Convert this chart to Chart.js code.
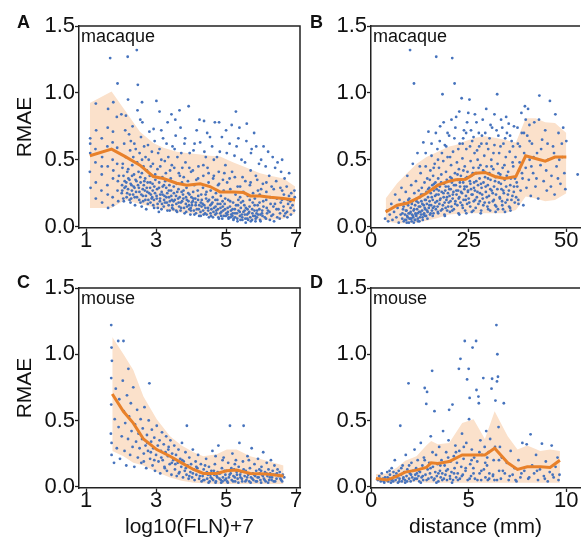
<!DOCTYPE html>
<html>
<head>
<meta charset="utf-8">
<script src="https://cdn.jsdelivr.net/npm/chart.js@4.4.0/dist/chart.umd.min.js"></script>
<style>
  body { margin: 0; width: 584px; height: 542px; overflow: hidden; background: #fff; position: relative; font-family: "Liberation Sans", Arial, sans-serif; }
  canvas { position: absolute; }
  .tag { position: absolute; font-weight: bold; font-size: 18px; line-height: 18px; color: #111; }
</style>
</head>
<body>
<canvas id="panelA" width="304" height="270" style="left:0;top:0"></canvas>
<canvas id="panelB" width="292" height="270" style="left:292px;top:0"></canvas>
<canvas id="panelC" width="304" height="280" style="left:0;top:262px"></canvas>
<canvas id="panelD" width="292" height="280" style="left:292px;top:262px"></canvas>
<div class="tag" style="left:17px;top:13px">A</div>
<div class="tag" style="left:310px;top:13px">B</div>
<div class="tag" style="left:17px;top:273px">C</div>
<div class="tag" style="left:310px;top:273px">D</div>
<script>
const rmaeTicks = [0, 0.5, 1.0, 1.5];
const flnTicks = [1, 3, 5, 7];
const macDistTicks = [0, 25, 50];
const mouseDistTicks = [0, 5, 10];

// binned means with shaded spread
const macFlnBins = [1.11, 1.73, 2.11, 2.54, 2.92, 3.21, 3.59, 3.88, 4.26, 4.54, 4.83, 5.21, 5.5, 5.69, 5.97, 6.26, 6.64, 6.97];
const macFlnMean = [0.53, 0.58, 0.525, 0.46, 0.375, 0.36, 0.325, 0.31, 0.32, 0.30, 0.26, 0.26, 0.255, 0.23, 0.23, 0.22, 0.21, 0.20];
const macFlnHigh = [0.925, 1.01, 0.87, 0.71, 0.625, 0.59, 0.56, 0.55, 0.54, 0.53, 0.525, 0.48, 0.45, 0.43, 0.40, 0.38, 0.36, 0.30];
const macFlnLow = [0.14, 0.14, 0.20, 0.17, 0.145, 0.13, 0.11, 0.10, 0.09, 0.08, 0.075, 0.065, 0.055, 0.05, 0.05, 0.05, 0.06, 0.10];

const macDistBins = [3.75, 6.7, 9.2, 11.7, 14.2, 17.1, 20, 21.7, 24.2, 26.7, 29.2, 31.7, 34.2, 37.1, 39.6, 42.1, 44.6, 47.1, 50];
const macDistMean = [0.11, 0.16, 0.175, 0.21, 0.25, 0.31, 0.34, 0.35, 0.355, 0.40, 0.405, 0.375, 0.36, 0.375, 0.53, 0.51, 0.49, 0.52, 0.52];
const macDistHigh = [0.21, 0.325, 0.40, 0.47, 0.52, 0.56, 0.60, 0.61, 0.64, 0.665, 0.675, 0.665, 0.65, 0.63, 0.81, 0.81, 0.78, 0.775, 0.70];
const macDistLow = [0.04, 0.025, 0.025, 0.03, 0.045, 0.065, 0.09, 0.095, 0.10, 0.10, 0.10, 0.10, 0.10, 0.125, 0.225, 0.21, 0.19, 0.20, 0.25];

const mouseFlnBins = [1.75, 2.07, 2.35, 2.64, 3.02, 3.4, 3.73, 4.07, 4.35, 4.73, 5.02, 5.3, 5.69, 6.16, 6.64];
const mouseFlnMean = [0.70, 0.5675, 0.48, 0.36, 0.28, 0.23, 0.18, 0.13, 0.10, 0.10, 0.12, 0.125, 0.10, 0.095, 0.08];
const mouseFlnHigh = [1.13, 1.0, 0.88, 0.68, 0.51, 0.38, 0.31, 0.26, 0.23, 0.245, 0.28, 0.28, 0.23, 0.195, 0.16];
const mouseFlnLow = [0.27, 0.23, 0.18, 0.16, 0.11, 0.07, 0.045, 0.03, 0.025, 0.02, 0.02, 0.02, 0.02, 0.02, 0.02];

const mouseDistBins = [0.25, 0.83, 1.33, 1.75, 2.33, 2.83, 3.08, 3.42, 4.0, 4.67, 5.25, 5.83, 6.33, 7.0, 7.5, 8.0, 8.67, 9.17, 9.67];
const mouseDistMean = [0.0625, 0.05, 0.08, 0.11, 0.125, 0.145, 0.18, 0.175, 0.19, 0.24, 0.24, 0.24, 0.29, 0.18, 0.13, 0.15, 0.15, 0.145, 0.20];
const mouseDistHigh = [0.095, 0.10, 0.145, 0.195, 0.23, 0.31, 0.345, 0.32, 0.33, 0.48, 0.51, 0.36, 0.57, 0.38, 0.28, 0.31, 0.27, 0.28, 0.27];
const mouseDistLow = [0.045, 0.03, 0.03, 0.03, 0.04, 0.03, 0.03, 0.03, 0.03, 0.03, 0.03, 0.03, 0.03, 0.03, 0.03, 0.03, 0.03, 0.03, 0.03];

// individual connections, flat x,y pairs
const macFlnPts = [
  1.12,0.62, 1.11,0.41, 1.13,0.29, 1.12,0.55, 1.12,0.66,
  1.27,0.48, 1.28,0.33, 1.29,0.72, 1.28,0.21, 1.27,0.58, 1.28,0.92,
  1.45,0.39, 1.46,0.52, 1.44,0.27, 1.45,0.66, 1.46,0.18, 1.45,0.45,
  1.61,0.31, 1.62,0.45, 1.63,0.88, 1.61,0.6, 1.62,0.24, 1.63,0.14, 1.62,0.74,
  1.76,0.5, 1.77,0.36, 1.78,0.93, 1.76,0.22, 1.77,0.71, 1.69,1.26, 1.78,0.42, 1.77,0.16, 1.76,0.63,
  1.88,0.82, 1.9,0.27, 1.89,0.47, 1.9,1.07, 1.91,0.34, 1.89,0.59, 1.92,0.19, 1.94,0.38,
  2.01,0.84, 2.03,0.31, 2.02,0.25, 2.04,0.44, 2.07,0.38, 2.09,0.62, 2.08,0.19, 2.1,0.29,
  2.13,0.52, 2.15,0.33, 2.14,0.83, 2.16,0.22, 2.19,1.27, 2.18,0.41, 2.2,0.28, 2.21,0.36,
  2.24,0.35, 2.26,0.57, 2.25,0.24, 2.27,0.18, 2.23,0.69, 2.3,0.31, 2.32,0.46, 2.31,0.27, 2.33,0.75, 2.29,0.21,
  2.37,0.39, 2.39,0.22, 2.38,0.62, 2.36,0.3, 2.4,0.16, 2.45,1.32, 2.44,0.34, 2.46,0.48, 2.43,0.26, 2.47,0.87,
  2.48,1.06, 2.51,0.29, 2.52,0.2, 2.5,0.41, 2.53,0.55, 2.56,0.33, 2.58,0.24, 2.57,0.67, 2.55,0.37, 2.59,0.15,
  2.62,0.28, 2.64,0.45, 2.63,0.19, 2.61,0.78, 2.65,0.31, 2.69,0.36, 2.71,0.23, 2.7,0.52, 2.68,0.27, 2.72,0.13,
  2.75,0.26, 2.77,0.61, 2.76,0.33, 2.78,0.2, 2.74,0.42, 2.82,0.38, 2.84,0.18, 2.83,0.29, 2.81,0.71, 2.85,0.24,
  2.89,0.22, 2.91,0.47, 2.9,0.32, 2.92,0.16, 2.88,0.56, 2.95,0.3, 2.97,0.25, 2.96,0.64, 2.94,0.2, 2.98,0.35,
  3.02,0.21, 3.04,0.43, 3.03,0.28, 3.05,0.14, 3.01,0.94, 3.09,0.33, 3.11,0.19, 3.1,0.58, 3.12,0.24, 3.08,0.11,
  3.16,0.26, 3.18,0.37, 3.17,0.17, 3.15,0.72, 3.19,0.3, 3.23,0.2, 3.25,0.49, 3.24,0.23, 3.22,0.15, 3.26,0.34,
  3.29,0.29, 3.31,0.18, 3.3,0.62, 3.32,0.25, 3.28,0.4, 3.36,0.16, 3.38,0.31, 3.37,0.22, 3.35,0.52, 3.39,0.12,
  3.43,0.27, 3.45,0.2, 3.44,0.84, 3.42,0.36, 3.46,0.14, 3.5,0.19, 3.52,0.44, 3.51,0.25, 3.49,0.13, 3.53,0.58,
  3.57,0.23, 3.59,0.32, 3.58,0.17, 3.56,0.68, 3.6,0.11, 3.64,0.28, 3.66,0.15, 3.65,0.4, 3.63,0.21, 3.67,0.87,
  3.71,0.18, 3.73,0.26, 3.72,0.55, 3.7,0.12, 3.74,0.33, 3.78,0.21, 3.8,0.14, 3.79,0.37, 3.77,0.24, 3.81,0.62,
  3.85,0.17, 3.87,0.29, 3.86,0.11, 3.84,0.48, 3.88,0.2, 3.92,0.25, 3.94,0.16, 3.93,0.9, 3.91,0.34, 3.95,0.13,
  3.99,0.14, 4.01,0.22, 4.0,0.41, 4.02,0.18, 3.98,0.09, 4.06,0.26, 4.08,0.12, 4.07,0.57, 4.05,0.19, 4.09,0.31,
  4.13,0.16, 4.15,0.35, 4.14,0.1, 4.12,0.21, 4.16,0.72, 4.2,0.2, 4.22,0.13, 4.21,0.45, 4.19,0.27, 4.23,0.08,
  4.27,0.11, 4.29,0.24, 4.28,0.18, 4.26,0.63, 4.3,0.15, 4.34,0.29, 4.36,0.09, 4.35,0.38, 4.33,0.17, 4.37,0.79,
  4.41,0.14, 4.43,0.21, 4.42,0.52, 4.4,0.1, 4.44,0.26, 4.48,0.19, 4.5,0.33, 4.49,0.12, 4.47,0.44, 4.51,0.07,
  4.55,0.16, 4.57,0.08, 4.56,0.27, 4.54,0.67, 4.58,0.13, 4.62,0.22, 4.64,0.11, 4.63,0.36, 4.61,0.18, 4.65,0.5,
  4.69,0.09, 4.71,0.25, 4.7,0.15, 4.68,0.78, 4.72,0.12, 4.76,0.17, 4.78,0.07, 4.77,0.31, 4.75,0.2, 4.79,0.41,
  4.83,0.1, 4.85,0.23, 4.84,0.14, 4.82,0.56, 4.86,0.08, 4.9,0.19, 4.92,0.12, 4.91,0.35, 4.89,0.06, 4.93,0.27,
  4.97,0.13, 4.99,0.08, 4.98,0.46, 4.96,0.17, 5.0,0.72,
  5.04,0.09, 5.06,0.2, 5.05,0.11, 5.03,0.33, 5.07,0.06, 5.11,0.15, 5.13,0.07, 5.12,0.28, 5.1,0.62, 5.14,0.12,
  5.18,0.08, 5.2,0.18, 5.19,0.1, 5.17,0.41, 5.21,0.05, 5.25,0.13, 5.27,0.24, 5.26,0.07, 5.24,0.53, 5.28,0.86,
  5.32,0.06, 5.34,0.16, 5.33,0.3, 5.31,0.1, 5.35,0.2, 5.39,0.11, 5.41,0.05, 5.4,0.22, 5.38,0.74, 5.42,0.14,
  5.46,0.07, 5.48,0.19, 5.47,0.37, 5.45,0.09, 5.49,0.26, 5.53,0.12, 5.55,0.06, 5.54,0.48, 5.52,0.16, 5.56,0.03,
  5.6,0.09, 5.62,0.23, 5.61,0.13, 5.59,0.77, 5.63,0.05, 5.67,0.15, 5.69,0.07, 5.68,0.31, 5.66,0.11, 5.7,0.42,
  5.74,0.05, 5.76,0.18, 5.75,0.1, 5.73,0.58, 5.77,0.25, 5.81,0.12, 5.83,0.08, 5.82,0.21, 5.8,0.7, 5.84,0.04,
  5.88,0.07, 5.9,0.16, 5.89,0.35, 5.87,0.1, 5.91,0.27, 5.95,0.13, 5.97,0.05, 5.96,0.24, 5.94,0.47, 5.98,0.09,
  6.04,0.08, 6.06,0.19, 6.05,0.32, 6.03,0.12, 6.07,0.6, 6.14,0.06, 6.16,0.14, 6.15,0.26, 6.13,0.45, 6.17,0.1,
  6.24,0.11, 6.26,0.22, 6.25,0.05, 6.23,0.38, 6.27,0.17, 6.34,0.09, 6.36,0.28, 6.35,0.15, 6.33,0.52, 6.37,0.04,
  6.44,0.13, 6.46,0.07, 6.45,0.21, 6.43,0.34, 6.47,0.48, 6.54,0.1, 6.56,0.18, 6.55,0.29, 6.53,0.06, 6.57,0.41,
  6.64,0.15, 6.66,0.08, 6.65,0.24, 6.63,0.12, 6.67,0.36, 6.74,0.11, 6.76,0.2, 6.75,0.07, 6.73,0.3, 6.77,0.17,
  6.84,0.14, 6.86,0.25, 6.85,0.09, 6.83,0.19, 6.94,0.12, 6.96,0.22, 6.95,0.27
];
const macFlnDense = [
  2.035,0.27, 2.065,0.21, 2.105,0.34, 2.135,0.3, 2.175,0.25, 2.205,0.43, 2.245,0.2, 2.275,0.32, 2.315,0.38, 2.345,0.24,
  2.385,0.29, 2.415,0.35, 2.455,0.22, 2.485,0.31, 2.525,0.26, 2.555,0.18, 2.595,0.4, 2.625,0.23, 2.665,0.34, 2.695,0.2,
  2.735,0.29, 2.765,0.17, 2.805,0.25, 2.835,0.33, 2.875,0.21, 2.905,0.27, 2.945,0.14, 2.975,0.39, 3.015,0.23, 3.045,0.17,
  3.085,0.29, 3.115,0.21, 3.155,0.13, 3.185,0.24, 3.225,0.31, 3.255,0.18, 3.295,0.22, 3.325,0.12, 3.365,0.27, 3.395,0.19,
  3.435,0.23, 3.465,0.16, 3.505,0.3, 3.535,0.2, 3.575,0.12, 3.605,0.26, 3.645,0.18, 3.675,0.22, 3.715,0.14, 3.745,0.19,
  3.785,0.27, 3.815,0.1, 3.855,0.22, 3.885,0.15, 3.925,0.19, 3.955,0.24, 3.995,0.12, 4.025,0.16, 4.065,0.21, 4.095,0.09,
  4.135,0.18, 4.165,0.13, 4.205,0.23, 4.235,0.16, 4.275,0.08, 4.305,0.2, 4.345,0.12, 4.375,0.16, 4.415,0.24, 4.445,0.09,
  4.485,0.14, 4.515,0.2, 4.555,0.1, 4.585,0.17, 4.625,0.07, 4.655,0.14, 4.695,0.2, 4.725,0.1, 4.765,0.13, 4.795,0.06,
  4.835,0.17, 4.865,0.11, 4.905,0.15, 4.935,0.08, 4.975,0.21, 5.005,0.1, 5.045,0.14, 5.075,0.07, 5.115,0.19, 5.145,0.09,
  5.185,0.13, 5.215,0.06, 5.255,0.1, 5.285,0.16, 5.325,0.04, 5.355,0.12, 5.395,0.08, 5.425,0.18, 5.465,0.05, 5.495,0.11,
  5.535,0.09, 5.565,0.14, 5.605,0.06, 5.635,0.1, 5.675,0.2, 5.705,0.04, 5.745,0.13, 5.775,0.08, 5.815,0.16, 5.845,0.06,
  5.885,0.12, 5.915,0.09, 5.955,0.18, 5.985,0.04, 6.025,0.1, 6.065,0.15, 6.105,0.07, 6.145,0.2, 6.195,0.12, 6.295,0.08,
  6.395,0.17, 6.495,0.13, 6.595,0.2, 6.695,0.1, 6.795,0.23, 6.895,0.16,
  2.05,0.47, 2.35,0.52, 2.6,0.5, 2.85,0.45, 3.15,0.5, 3.45,0.46, 3.75,0.44, 4.05,0.42, 4.35,0.46, 4.65,0.38,
  4.95,0.4, 5.25,0.37, 5.55,0.34, 5.85,0.38, 6.15,0.33,
  2.12,0.72, 2.28,0.64, 2.42,0.58, 2.55,0.8, 2.66,0.6, 2.79,0.5, 2.93,0.73, 3.06,0.55, 3.2,0.66, 3.33,0.78,
  3.47,0.6, 3.61,0.52, 3.7,0.74, 3.83,0.66, 3.96,0.55, 4.1,0.62, 4.24,0.8, 4.38,0.56, 4.46,0.7, 4.6,0.6,
  4.74,0.52, 4.88,0.67, 5.02,0.55, 5.16,0.76, 5.3,0.6, 5.44,0.5, 5.58,0.64, 5.71,0.55, 5.86,0.6, 6.0,0.5,
  6.2,0.56, 6.4,0.44, 6.6,0.5, 6.8,0.4, 2.2,0.95, 2.6,0.93, 3.1,0.86, 3.55,0.8, 4.8,0.78, 5.35,0.66,
  3.12,0.45, 3.4,0.42, 3.68,0.38, 3.95,0.44, 4.2,0.36, 4.5,0.4, 4.8,0.32, 5.1,0.36, 5.4,0.3, 5.7,0.33,
  6.0,0.28, 6.3,0.3, 6.6,0.27
];

const macDistPts = [
  3.6,0.06, 4.1,0.12, 4.4,0.04, 4.8,0.09, 5.2,0.17, 5.5,0.05, 5.9,0.11, 6.2,0.24, 6.5,0.07, 6.8,0.14,
  7.1,0.03, 7.3,0.2, 7.6,0.09, 7.8,0.29, 8.0,0.06, 8.2,0.13, 8.4,0.04, 8.5,0.18, 8.7,0.09, 8.9,0.26,
  9.0,0.05, 9.1,0.12, 9.3,0.38, 9.4,0.07, 9.5,0.16, 9.7,0.03, 9.8,0.21, 9.9,0.1, 10.0,1.32, 10.1,0.06,
  10.2,0.14, 10.3,0.31, 10.4,0.04, 10.5,0.09, 10.6,0.19, 10.7,0.47, 10.8,0.07, 10.9,0.12, 11.0,1.07, 11.1,0.25,
  11.2,0.05, 11.3,0.16, 11.4,0.1, 11.5,0.34, 11.6,0.08, 11.7,0.21, 11.8,0.13, 11.9,0.55, 12.0,0.06, 12.1,0.18,
  12.2,0.27, 12.3,0.11, 12.4,0.04, 12.5,0.22, 12.6,0.15, 12.7,0.4, 12.8,0.09, 12.9,0.19, 13.0,0.29, 13.1,0.12,
  13.2,0.07, 13.3,0.24, 13.4,0.63, 13.5,0.16, 13.6,0.1, 13.7,0.33, 13.8,0.2, 13.9,0.13, 14.0,0.45, 14.1,0.08,
  14.2,0.26, 14.3,0.17, 14.4,0.36, 14.5,0.11, 14.6,0.22, 14.7,0.71, 14.8,0.14, 14.9,0.29, 15.0,0.19, 15.1,0.09,
  15.2,0.42, 15.3,0.25, 15.4,0.16, 15.5,0.53, 15.6,0.12, 15.7,0.31, 15.8,0.2, 15.9,0.38, 16.0,0.1, 16.1,0.27,
  16.2,0.15, 16.3,0.47, 16.4,0.23, 16.5,0.33, 16.6,0.13, 16.7,1.27, 16.8,0.28, 16.9,0.19, 17.0,0.58, 17.1,0.11,
  17.2,0.36, 17.3,0.24, 17.4,0.44, 17.5,0.17, 17.6,0.3, 17.7,0.75, 17.8,0.21, 17.9,0.12, 18.0,0.39, 18.1,0.26,
  18.3,0.99, 18.4,0.16, 18.5,0.49, 18.6,0.22, 18.7,0.32, 18.8,0.09, 18.9,0.61, 19.0,0.27, 19.1,0.14, 19.2,0.41,
  19.3,0.2, 19.4,0.35, 19.5,0.12, 19.6,0.52, 19.7,0.25, 19.8,0.3, 19.9,0.18, 20.0,0.68, 20.1,0.23, 20.2,0.11,
  20.3,0.37, 20.4,0.28, 20.5,0.46, 20.6,0.15, 20.7,0.33, 20.8,1.26, 20.9,0.21, 21.0,0.56, 21.1,0.26, 21.2,0.13,
  21.4,1.07, 21.5,0.4, 21.6,0.19, 21.7,0.31, 21.8,0.82, 21.9,0.24, 22.0,0.48, 22.1,0.16, 22.2,0.35, 22.3,0.27,
  22.4,0.1, 22.5,0.43, 22.6,0.22, 22.7,0.62, 22.8,0.3, 22.9,0.18, 23.0,0.38, 23.2,0.96, 23.3,0.25, 23.4,0.51,
  23.5,0.14, 23.6,0.33, 23.7,0.2, 23.8,0.72, 23.9,0.28, 24.0,0.45, 24.1,0.12, 24.2,0.36, 24.3,0.23, 24.4,0.58,
  24.5,0.3, 24.6,0.17, 24.7,0.41, 24.8,0.26, 24.9,0.85, 25.0,0.21, 25.2,0.95, 25.3,0.34, 25.4,0.15, 25.5,0.49,
  25.6,0.28, 25.7,0.38, 25.8,0.11, 25.9,0.64, 26.0,0.24, 26.2,0.44, 26.3,0.19, 26.4,0.33, 26.5,0.55, 26.6,0.27,
  26.8,0.14, 26.9,0.4, 27.0,0.78, 27.1,0.22, 27.3,0.5, 27.4,0.31, 27.5,0.17, 27.7,0.6, 27.8,0.36, 27.9,0.25,
  28.0,0.46, 28.2,0.12, 28.3,0.29, 28.4,0.68, 28.6,0.21, 28.7,0.42, 28.8,0.33, 29.0,0.53, 29.1,0.18, 29.2,0.37,
  29.4,0.26, 29.5,0.88, 29.6,0.45, 29.8,0.15, 29.9,0.31, 30.0,0.58, 30.2,0.23, 30.3,0.4, 30.5,0.12, 30.6,0.35,
  30.8,0.5, 30.9,0.27, 31.0,0.74, 31.2,0.19, 31.3,0.43, 31.5,0.3, 31.6,0.61, 31.8,0.16, 31.9,0.37, 32.0,0.24,
  32.3,0.99, 32.4,0.47, 32.5,0.13, 32.7,0.33, 32.8,0.55, 33.0,0.21, 33.1,0.39, 33.3,0.8, 33.4,0.28, 33.6,0.16,
  33.7,0.44, 33.9,0.62, 34.0,0.25, 34.2,0.35, 34.3,0.11, 34.5,0.52, 34.6,0.3, 34.8,0.7, 34.9,0.2, 35.1,0.41,
  35.3,0.27, 35.5,0.56, 35.6,0.14, 35.8,0.36, 36.0,0.64, 36.2,0.23, 36.4,0.45, 36.6,0.3, 36.8,0.18, 37.0,0.52,
  37.3,0.33, 37.5,0.74, 37.7,0.2, 37.9,0.42, 38.1,0.6, 38.3,0.27, 38.5,0.85, 38.8,0.36, 39.0,0.16, 39.2,0.55,
  39.4,0.9, 39.6,0.44, 39.8,0.29, 40.0,0.68, 40.2,0.88, 40.4,0.35, 40.6,0.5, 40.9,0.23, 41.2,0.62, 41.5,0.4,
  41.8,0.78, 42.1,0.3, 42.5,0.55, 42.8,0.21, 43.1,0.98, 43.4,0.46, 43.8,0.65, 44.2,0.34, 44.6,0.72, 45.0,0.27,
  45.4,0.5, 45.8,0.94, 46.2,0.38, 46.6,0.6, 47.0,0.24, 47.5,0.45, 48.0,0.7, 48.5,0.32, 49.0,0.52, 49.5,0.4,
  50.0,0.64, 52.9,0.39
];
const macDistDense = [
  8.05,0.1, 8.35,0.15, 8.65,0.05, 8.95,0.12, 9.25,0.08, 9.55,0.2, 9.85,0.06, 10.15,0.11, 10.45,0.17, 10.75,0.08,
  11.05,0.13, 11.35,0.05, 11.65,0.19, 11.95,0.1, 12.25,0.15, 12.55,0.07, 12.85,0.24, 13.15,0.17, 13.45,0.09, 13.75,0.14,
  14.05,0.2, 14.35,0.12, 14.65,0.28, 14.95,0.16, 15.25,0.1, 15.55,0.22, 15.85,0.14, 16.15,0.32, 16.45,0.18, 16.75,0.24,
  17.05,0.15, 17.35,0.27, 17.65,0.2, 17.95,0.33, 18.25,0.13, 18.55,0.25, 18.85,0.18, 19.15,0.3, 19.45,0.22, 19.75,0.15,
  20.05,0.28, 20.35,0.19, 20.65,0.36, 20.95,0.24, 21.25,0.31, 21.55,0.17, 21.85,0.27, 22.15,0.39, 22.45,0.21, 22.75,0.33,
  23.05,0.26, 23.35,0.16, 23.65,0.42, 23.95,0.3, 24.25,0.2, 24.55,0.37, 24.85,0.27, 25.15,0.18, 25.45,0.32, 25.75,0.24,
  26.05,0.4, 26.35,0.29, 26.65,0.2, 26.95,0.34, 27.25,0.26, 27.55,0.44, 27.85,0.19, 28.15,0.32, 28.45,0.24, 28.75,0.16,
  29.05,0.41, 29.35,0.3, 29.65,0.22, 29.95,0.36, 30.25,0.18, 30.55,0.28, 30.85,0.45, 31.15,0.25, 31.45,0.2, 31.75,0.34,
  32.05,0.15, 32.35,0.28, 32.65,0.4, 32.95,0.22, 33.25,0.32, 33.55,0.19, 33.85,0.27, 34.15,0.46, 34.45,0.18, 34.75,0.38,
  35.05,0.24, 35.35,0.15, 35.65,0.31, 35.95,0.2, 36.25,0.48, 36.55,0.26, 36.85,0.36, 37.15,0.22, 37.45,0.3, 37.75,0.17,
  9.15,0.03, 9.65,0.1, 10.35,0.06, 10.95,0.03, 11.45,0.09, 12.05,0.04, 12.65,0.11, 13.25,0.05, 13.85,0.08, 14.45,0.06,
  15.05,0.35, 16.05,0.44, 17.15,0.5, 18.15,0.55, 19.25,0.6, 20.25,0.52, 21.35,0.66, 22.35,0.58, 23.45,0.62, 24.35,0.7,
  25.35,0.6, 26.25,0.67, 27.15,0.57, 28.25,0.62, 29.25,0.7, 30.35,0.66, 31.35,0.55, 32.15,0.72, 33.15,0.6, 34.35,0.66,
  35.25,0.77, 36.35,0.6, 38.05,0.48, 38.65,0.4, 39.15,0.7, 40.55,0.76, 41.05,0.45, 42.35,0.36, 43.55,0.58, 44.85,0.42,
  46.05,0.3, 46.85,0.55, 47.85,0.36, 48.85,0.62, 49.75,0.28,
  12.5,0.45, 14.0,0.55, 15.5,0.62, 16.6,0.7, 17.6,0.64, 18.6,0.78, 19.6,0.7, 20.6,0.8, 21.6,0.74, 22.6,0.86,
  23.6,0.66, 24.6,0.78, 25.6,0.72, 26.6,0.84, 27.6,0.7, 28.6,0.8, 29.6,0.62, 30.6,0.76, 31.6,0.84, 32.6,0.68,
  33.6,0.74, 34.6,0.82, 35.6,0.68, 36.6,0.75, 37.6,0.62, 38.6,0.7, 39.6,0.8, 40.6,0.64, 41.6,0.52, 43.0,0.8,
  45.2,0.62, 47.2,0.84, 48.2,0.5, 49.2,0.74,
  15.8,0.08, 17.2,0.1, 18.9,0.08, 20.8,0.12, 22.6,0.09, 24.4,0.1, 26.2,0.12, 28.1,0.1, 30.0,0.13, 31.9,0.11,
  33.8,0.13, 35.7,0.12
];

const mouseFlnPts = [
  1.72,1.22, 1.73,1.05, 1.72,0.82, 1.71,0.4, 1.73,0.24, 1.72,0.62, 1.74,0.95, 1.73,0.33,
  1.8,0.18, 1.82,0.51, 1.85,0.74, 1.88,0.29, 1.92,1.1, 1.93,0.45, 1.95,0.66, 1.97,0.21,
  2.02,0.38, 2.05,0.8, 2.07,1.1, 2.08,0.57, 2.1,0.27, 2.12,0.48, 2.15,0.16, 2.17,0.69,
  2.2,0.36, 2.21,0.89, 2.23,0.53, 2.26,0.24, 2.28,0.63, 2.3,0.42, 2.33,0.3, 2.35,0.75, 2.38,0.15, 2.4,0.47,
  2.43,0.34, 2.46,0.58, 2.48,0.22, 2.5,0.4,
  2.53,0.29, 2.56,0.51, 2.58,0.18, 2.6,0.36, 2.62,0.44, 2.65,0.25, 2.67,0.6, 2.7,0.31, 2.72,0.14, 2.74,0.39,
  2.77,0.27, 2.79,0.5, 2.81,0.78, 2.83,0.21, 2.86,0.34, 2.88,0.43, 2.9,0.16, 2.92,0.29, 2.95,0.37, 2.97,0.12,
  3.0,0.24, 3.02,0.46, 3.05,0.31, 3.07,0.19, 3.1,0.35, 3.12,0.1, 3.14,0.27, 3.17,0.41, 3.19,0.2, 3.22,0.32,
  3.24,0.15, 3.27,0.26, 3.29,0.38, 3.31,0.12, 3.34,0.23, 3.36,0.3, 3.39,0.17, 3.41,0.35, 3.44,0.09, 3.46,0.25,
  3.49,0.2, 3.52,0.31, 3.54,0.13, 3.57,0.24, 3.59,0.08, 3.62,0.18, 3.64,0.28, 3.67,0.11, 3.69,0.21, 3.72,0.15,
  3.74,0.33, 3.77,0.07, 3.79,0.19, 3.82,0.12, 3.84,0.26, 3.87,0.09, 3.88,0.46, 3.9,0.16, 3.93,0.06, 3.95,0.22,
  3.98,0.11, 4.0,0.17, 4.03,0.07, 4.05,0.28, 4.08,0.13, 4.1,0.05, 4.13,0.19, 4.15,0.09, 4.18,0.14, 4.2,0.24,
  4.23,0.06, 4.25,0.11, 4.28,0.17, 4.3,0.04,
  4.33,0.08, 4.36,0.13, 4.38,0.05, 4.41,0.1, 4.43,0.21, 4.46,0.06, 4.48,0.09, 4.51,0.15, 4.53,0.04, 4.56,0.07,
  4.58,0.12, 4.61,0.27, 4.63,0.05, 4.66,0.09, 4.68,0.17, 4.71,0.04, 4.73,0.08, 4.76,0.11, 4.78,0.31, 4.81,0.06,
  4.83,0.1, 4.86,0.03, 4.88,0.14, 4.91,0.07, 4.93,0.22, 4.96,0.05, 4.98,0.09, 5.01,0.12, 5.03,0.04, 5.06,0.18,
  5.08,0.07, 5.11,0.46, 5.13,0.1, 5.16,0.05, 5.18,0.25, 5.21,0.08, 5.23,0.13, 5.26,0.04, 5.28,0.2, 5.31,0.09,
  5.33,0.06, 5.36,0.15, 5.38,0.33, 5.41,0.07, 5.43,0.11, 5.46,0.04, 5.48,0.19, 5.5,0.46, 5.53,0.08, 5.56,0.12,
  5.58,0.05, 5.61,0.23, 5.63,0.09, 5.66,0.04, 5.68,0.14, 5.71,0.07, 5.73,0.29, 5.76,0.1, 5.78,0.05, 5.81,0.17,
  5.83,0.08, 5.86,0.12, 5.88,0.04, 5.91,0.21, 5.93,0.07, 5.96,0.1, 5.98,0.05, 6.01,0.15, 6.03,0.09, 6.06,0.26,
  6.08,0.06, 6.11,0.11, 6.13,0.04, 6.16,0.18, 6.18,0.08, 6.21,0.13, 6.23,0.05, 6.26,0.1, 6.28,0.2, 6.31,0.07,
  6.33,0.12, 6.36,0.04, 6.38,0.16, 6.41,0.09, 6.44,0.06, 6.47,0.13, 6.5,0.08, 6.53,0.11, 6.57,0.05, 6.62,0.09,
  6.66,0.07
];
const mouseFlnDense = [
  3.55,0.17, 3.65,0.1, 3.75,0.2, 3.85,0.14, 3.95,0.08, 4.05,0.1, 4.15,0.15, 4.25,0.08, 4.35,0.05, 4.45,0.11,
  4.5,0.03, 4.55,0.09, 4.6,0.06, 4.65,0.12, 4.7,0.03, 4.75,0.07, 4.8,0.1, 4.85,0.05, 4.9,0.04, 4.95,0.12,
  5.0,0.06, 5.05,0.03, 5.1,0.09, 5.15,0.14, 5.2,0.04, 5.25,0.07, 5.3,0.11, 5.35,0.03, 5.4,0.09, 5.45,0.06,
  5.5,0.13, 5.55,0.04, 5.6,0.07, 5.65,0.1, 5.7,0.03, 5.75,0.06, 5.8,0.09, 5.85,0.04, 5.9,0.07, 5.95,0.13,
  6.0,0.03, 6.05,0.08, 6.1,0.05, 6.15,0.1, 6.2,0.03, 6.25,0.07, 6.3,0.05, 6.35,0.09, 6.4,0.04, 6.45,0.1,
  6.55,0.06, 6.6,0.04, 3.15,0.22, 3.25,0.14, 3.35,0.28, 3.45,0.18, 2.95,0.2, 2.85,0.26, 2.75,0.33, 2.65,0.19,
  4.4,0.16, 4.9,0.2, 5.25,0.17, 5.65,0.2, 6.0,0.12, 4.7,0.23
];

const mouseDistPts = [
  0.35,0.05, 0.42,0.08, 0.5,0.04, 0.55,0.1, 0.62,0.06, 0.68,0.03, 0.72,0.07, 0.78,0.05, 0.83,0.11, 0.88,0.04,
  0.92,0.06, 0.97,0.09, 1.02,0.03, 1.06,0.14, 1.1,0.06, 1.14,0.04, 1.18,0.08, 1.22,0.2, 1.26,0.05, 1.3,0.1,
  1.34,0.07, 1.38,0.03, 1.42,0.12, 1.46,0.06, 1.5,0.46, 1.54,0.09, 1.58,0.04, 1.62,0.16, 1.66,0.07, 1.7,0.11,
  1.74,0.05, 1.78,0.24, 1.82,0.08, 1.86,0.13, 1.92,0.78, 1.95,0.06, 1.99,0.1, 2.03,0.04, 2.07,0.18, 2.11,0.07,
  2.15,0.12, 2.19,0.05, 2.23,0.28, 2.27,0.09, 2.31,0.14, 2.35,0.06, 2.39,0.2, 2.43,0.08, 2.47,0.04, 2.51,0.11,
  2.55,0.33, 2.59,0.07, 2.63,0.16, 2.67,0.05, 2.71,0.22, 2.75,0.745, 2.79,0.09, 2.83,0.625, 2.87,0.715, 2.9,0.13,
  2.94,0.06, 2.98,0.18, 3.02,0.1, 3.06,0.38, 3.1,0.07, 3.13,0.875, 3.17,0.15, 3.21,0.05, 3.25,0.57, 3.29,0.11,
  3.33,0.24, 3.37,0.08, 3.41,0.17, 3.45,0.04, 3.49,0.3, 3.53,0.12, 3.57,0.07, 3.61,0.2, 3.65,0.1, 3.69,0.42,
  3.73,0.06, 3.77,0.16, 3.81,0.09, 3.85,0.26, 3.89,0.05, 3.93,0.13, 3.97,0.35, 4.0,0.58, 4.04,0.08, 4.08,0.19,
  4.12,0.11, 4.17,0.62, 4.2,0.05, 4.24,0.23, 4.28,0.14, 4.32,0.31, 4.36,0.07, 4.4,0.18, 4.44,0.1, 4.5,0.89,
  4.52,0.27, 4.55,0.06, 4.58,0.965, 4.62,0.15, 4.66,0.4, 4.7,0.09, 4.74,0.21, 4.8,1.1, 4.84,0.12, 4.88,0.33,
  4.92,0.81, 4.95,0.05, 5.0,0.89, 5.02,0.51, 5.05,0.67, 5.08,0.17, 5.12,0.08, 5.16,0.28, 5.2,1.05, 5.24,0.14,
  5.28,0.22, 5.32,0.06, 5.38,1.1, 5.4,0.73, 5.44,0.19, 5.5,0.68, 5.52,0.63, 5.56,0.1, 5.6,0.35, 5.64,0.05,
  5.68,0.24, 5.75,0.82, 5.78,0.13, 5.82,0.3, 5.86,0.07, 5.9,0.42, 5.94,0.16, 5.98,0.05, 6.02,0.26, 6.06,0.1,
  6.1,0.36, 6.17,0.74, 6.2,0.815, 6.24,0.08, 6.28,0.2, 6.32,0.05, 6.37,0.65, 6.42,1.22, 6.45,0.795, 6.47,1.0,
  6.5,0.83, 6.53,0.45, 6.56,0.12, 6.6,0.3, 6.65,0.06, 6.7,0.22, 6.8,0.63, 6.85,0.1, 6.95,0.18, 7.05,0.05,
  7.15,0.27, 7.25,0.09, 7.35,0.14, 7.45,0.04, 7.55,0.2, 7.65,0.07, 7.75,0.33, 7.85,0.12, 7.97,0.32, 8.05,0.06,
  8.17,0.395, 8.25,0.16, 8.35,0.1, 8.45,0.24, 8.55,0.05, 8.65,0.13, 8.75,0.325, 8.85,0.08, 8.95,0.19, 9.05,0.04,
  9.15,0.11, 9.25,0.31, 9.35,0.07, 9.45,0.15, 9.55,0.22, 9.65,0.09
];
const mouseDistDense = [
  0.45,0.06, 0.65,0.04, 0.85,0.07, 1.05,0.05, 1.25,0.08, 1.45,0.04, 1.65,0.06, 1.85,0.04, 2.05,0.09, 2.25,0.06,
  2.45,0.12, 2.65,0.08, 2.85,0.05, 3.05,0.14, 3.25,0.06, 3.45,0.1, 3.65,0.05, 3.85,0.12, 4.05,0.06, 4.25,0.1,
  4.45,0.05, 4.65,0.08, 4.85,0.14, 5.05,0.06, 5.25,0.1, 5.45,0.05, 5.65,0.12, 5.85,0.18, 6.05,0.06, 6.25,0.09,
  6.45,0.05, 6.75,0.12, 7.1,0.08, 7.4,0.05, 7.7,0.1, 8.1,0.07, 8.5,0.12, 8.9,0.06, 9.3,0.09, 9.6,0.05,
  1.15,0.11, 1.55,0.14, 1.95,0.16, 2.35,0.1, 2.75,0.2, 3.15,0.26, 3.55,0.16, 3.95,0.22, 4.35,0.26, 4.75,0.3,
  5.15,0.2, 5.55,0.26, 5.95,0.22, 6.35,0.3, 6.55,0.2, 0.95,0.12, 1.75,0.03, 2.55,0.03, 3.35,0.03, 4.15,0.03
];

const fontFamily = '"Liberation Sans", Arial, sans-serif';
const ink = '#111';
const axisColor = '#222';
const dotBlue = '#4673bd';
const lineOrange = '#e8812a';
const bandPeach = '#fbe1cb';

Chart.defaults.font.family = fontFamily;

function pairs(flat) {
    const out = [];
    for (let i = 0; i < flat.length; i += 2) out.push({ x: flat[i], y: flat[i + 1] });
    return out;
}

function zipXY(xs, ys) {
    return xs.map((x, i) => ({ x: x, y: ys[i] }));
}

// top border (and right one when the panel is not cut off) plus species tag
const boxPlugin = {
    id: 'box',
    afterDraw(chart, args, opts) {
        const { ctx, chartArea: a } = chart;
        ctx.save();
        ctx.strokeStyle = axisColor;
        ctx.lineWidth = 1.5;
        ctx.beginPath();
        ctx.moveTo(a.left, a.top);
        ctx.lineTo(a.right, a.top);
        if (opts.right) ctx.lineTo(a.right, a.bottom);
        ctx.stroke();
        ctx.font = '18px ' + fontFamily;
        ctx.fillStyle = ink;
        ctx.textBaseline = 'alphabetic';
        ctx.fillText(opts.tag, a.left + 2, a.top + 16);
        ctx.restore();
    }
};

function makePanel(id, p) {
    new Chart(document.getElementById(id), {
        type: 'scatter',
        data: {
            datasets: [
                { type: 'line', data: zipXY(p.bins, p.mean), borderColor: lineOrange, borderWidth: 3, pointRadius: 0, fill: false, order: 0 },
                { data: pairs(p.pts.concat(p.dense)), backgroundColor: dotBlue, pointRadius: 1.4, pointBorderWidth: 0, order: 1 },
                { type: 'line', data: zipXY(p.bins, p.high), borderWidth: 0, pointRadius: 0, backgroundColor: bandPeach, fill: '+1', order: 2 },
                { type: 'line', data: zipXY(p.bins, p.low), borderWidth: 0, pointRadius: 0, fill: false, order: 3 }
            ]
        },
        options: {
            responsive: false,
            animation: false,
            layout: { padding: { top: 26, right: p.padRight, bottom: 0, left: 0 } },
            plugins: {
                legend: { display: false },
                tooltip: { enabled: false },
                box: { right: p.right, tag: p.tag }
            },
            scales: {
                x: {
                    type: 'linear',
                    min: p.xMin,
                    max: p.xMax,
                    afterBuildTicks: s => { s.ticks = p.xTicks.map(v => ({ value: v })); },
                    afterFit: s => { s.height = p.bottomH; },
                    ticks: { font: { size: 22, lineHeight: 1 }, color: ink, padding: -2, autoSkip: false, maxRotation: 0 },
                    grid: { drawOnChartArea: false, drawTicks: true, tickLength: 4, tickColor: axisColor, tickWidth: 1.3 },
                    border: { color: axisColor, width: 1.5 },
                    title: { display: !!p.xTitle, text: p.xTitle || '', font: { size: 21 }, color: ink, padding: { top: 0, bottom: 2 } }
                },
                y: {
                    min: -0.01,
                    max: 1.5,
                    afterBuildTicks: s => { s.ticks = rmaeTicks.map(v => ({ value: v })); },
                    afterFit: s => { s.width = 79; },
                    ticks: { font: { size: 22, lineHeight: 1 }, color: ink, padding: 0, callback: v => v.toFixed(1) },
                    grid: { drawOnChartArea: false, drawTicks: true, tickLength: 4, tickColor: axisColor, tickWidth: 1.3 },
                    border: { color: axisColor, width: 1.5 },
                    title: { display: p.yTitle, text: 'RMAE', font: { size: 21 }, color: ink, padding: { top: 13, bottom: 0 } }
                }
            }
        },
        plugins: [boxPlugin]
    });
}

makePanel('panelA', {
    pts: macFlnPts, dense: macFlnDense, bins: macFlnBins, mean: macFlnMean, high: macFlnHigh, low: macFlnLow,
    xMin: 0.8, xMax: 7.11, xTicks: flnTicks, tag: 'macaque', right: true, padRight: 4,
    bottomH: 42, yTitle: true
});
makePanel('panelB', {
    pts: macDistPts, dense: macDistDense, bins: macDistBins, mean: macDistMean, high: macDistHigh, low: macDistLow,
    xMin: 0, xMax: 53.5, xTicks: macDistTicks, tag: 'macaque', right: false, padRight: 0,
    bottomH: 42, yTitle: false
});
makePanel('panelC', {
    pts: mouseFlnPts, dense: mouseFlnDense, bins: mouseFlnBins, mean: mouseFlnMean, high: mouseFlnHigh, low: mouseFlnLow,
    xMin: 0.8, xMax: 7.11, xTicks: flnTicks, tag: 'mouse', right: true, padRight: 4,
    bottomH: 54, yTitle: true, xTitle: 'log10(FLN)+7'
});
makePanel('panelD', {
    pts: mouseDistPts, dense: mouseDistDense, bins: mouseDistBins, mean: mouseDistMean, high: mouseDistHigh, low: mouseDistLow,
    xMin: 0, xMax: 10.7, xTicks: mouseDistTicks, tag: 'mouse', right: false, padRight: 0,
    bottomH: 54, yTitle: false, xTitle: 'distance (mm)'
});
</script>
</body>
</html>
